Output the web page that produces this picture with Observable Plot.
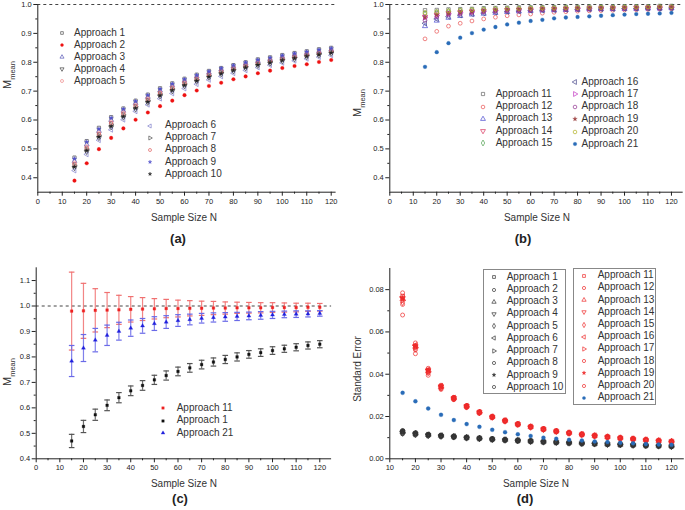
<!DOCTYPE html>
<html><head><meta charset="utf-8">
<script src="https://cdn.jsdelivr.net/npm/d3@7"></script>
<script src="https://cdn.jsdelivr.net/npm/@observablehq/plot@0.6"></script>
<style>
body{margin:0;background:#fff;font-family:"Liberation Sans",Arial,sans-serif;}
#root{position:relative;width:685px;height:510px;overflow:hidden;background:#fff;}
.abs{position:absolute;white-space:nowrap;color:#222;}
.c{transform:translate(-50%,-50%);}
.rot{transform:translate(-50%,-50%) rotate(-90deg);}
.xl{font-size:10px;color:#333;}
.yl{font-size:11px;color:#333;}
.yl sub{font-size:7.5px;}
.pl{font-size:13px;font-weight:bold;}
.lt{position:absolute;font-size:10px;line-height:12px;white-space:nowrap;color:#333;}
.box{position:absolute;border:1px solid #888;box-sizing:border-box;}
</style></head><body><div id="root"></div>
<script>
// ---------- data ----------
const N = [15,20,25,30,35,40,45,50,55,60,65,70,75,80,85,90,95,100,105,110,115,120];

// Panel (a): M_mean, approaches 1-10
const A1  = [.470,.527,.573,.610,.640,.667,.688,.710,.727,.743,.757,.770,.780,.790,.800,.810,.817,.825,.832,.838,.845,.850];
const A2  = [.390,.450,.499,.538,.571,.601,.626,.648,.667,.686,.702,.718,.729,.741,.751,.762,.771,.780,.787,.793,.801,.808];
const A3  = [.458,.515,.562,.600,.632,.659,.680,.702,.720,.736,.751,.764,.775,.785,.795,.804,.811,.819,.826,.832,.838,.844];
const A4  = [.434,.490,.538,.575,.609,.637,.660,.682,.700,.717,.733,.747,.759,.769,.779,.788,.796,.804,.811,.818,.824,.830];
const A5  = [.452,.508,.556,.594,.627,.654,.676,.697,.715,.732,.747,.760,.771,.782,.791,.800,.808,.815,.822,.829,.835,.841];
const A6  = [.425,.481,.530,.566,.601,.630,.653,.674,.692,.709,.724,.739,.751,.762,.772,.782,.790,.798,.805,.812,.818,.824];
const A7  = [.443,.499,.547,.585,.618,.646,.668,.690,.708,.725,.740,.754,.765,.775,.785,.794,.802,.810,.817,.824,.830,.836];
const A8  = [.447,.503,.551,.589,.622,.649,.671,.693,.711,.728,.743,.757,.768,.778,.788,.797,.805,.812,.819,.826,.832,.838];
const A9  = [.466,.524,.569,.607,.638,.665,.686,.707,.725,.741,.755,.768,.779,.789,.799,.808,.815,.823,.830,.836,.843,.848];
const A10 = [.438,.494,.542,.578,.612,.641,.663,.685,.703,.720,.736,.750,.761,.772,.782,.791,.799,.807,.814,.821,.827,.833];

// Panel (b): M_mean, approaches 11-21
const B11 = [.980,.981,.983,.984,.985,.987,.988,.989,.990,.990,.991,.991,.992,.992,.993,.993,.993,.994,.994,.994,.995,.995];
const B12 = [.881,.907,.925,.935,.943,.950,.956,.961,.964,.967,.970,.973,.975,.977,.978,.979,.980,.981,.982,.983,.984,.985];
const B13 = [.925,.944,.954,.960,.965,.968,.971,.974,.976,.978,.979,.980,.981,.982,.983,.984,.984,.985,.985,.986,.986,.987];
const B14 = [.958,.965,.970,.973,.976,.978,.980,.981,.982,.983,.984,.985,.986,.986,.987,.987,.988,.988,.989,.989,.990,.990];
const B15 = [.968,.972,.976,.978,.980,.982,.983,.984,.985,.986,.986,.987,.988,.988,.989,.989,.989,.990,.990,.990,.991,.991];
const B16 = [.935,.950,.958,.963,.967,.970,.973,.975,.977,.979,.980,.981,.982,.983,.984,.984,.985,.986,.986,.987,.987,.988];
const B17 = [.955,.962,.968,.972,.975,.977,.979,.981,.982,.983,.984,.985,.985,.986,.987,.987,.988,.988,.989,.989,.989,.990];
const B18 = [.945,.957,.964,.968,.972,.975,.977,.979,.980,.981,.982,.983,.984,.985,.985,.986,.986,.987,.987,.988,.988,.989];
const B19 = [.956,.964,.969,.973,.976,.978,.980,.982,.983,.984,.985,.985,.986,.987,.987,.988,.988,.989,.989,.990,.990,.990];
const B20 = [.972,.975,.978,.980,.982,.983,.985,.986,.986,.987,.988,.988,.989,.989,.990,.990,.990,.991,.991,.991,.992,.992];
const B21 = [.784,.835,.866,.885,.901,.913,.922,.931,.937,.943,.947,.952,.955,.957,.959,.961,.963,.965,.967,.968,.969,.971];

// Panel (c): error half-widths for approaches 11, 1, 21 (means from B11, A1, B21)
const E11 = [.153,.108,.085,.069,.057,.050,.045,.040,.036,.033,.030,.028,.026,.024,.022,.021,.020,.019,.018,.017,.016,.015];
const E1  = [.026,.024,.022,.021,.020,.019,.019,.018,.018,.017,.017,.017,.016,.016,.016,.015,.015,.015,.014,.014,.014,.014];
const E21 = [.061,.053,.046,.040,.035,.032,.029,.027,.025,.023,.021,.019,.018,.017,.016,.015,.015,.014,.013,.013,.012,.011];

// Panel (d): standard error, approaches 1-21
const D1  = [.0130,.0120,.0114,.0110,.0106,.0101,.0097,.0093,.0090,.0087,.0084,.0081,.0079,.0076,.0074,.0072,.0070,.0068,.0066,.0064,.0062,.0060];
const D2  = [.0118,.0112,.0108,.0105,.0102,.0098,.0095,.0091,.0088,.0085,.0082,.0080,.0077,.0075,.0073,.0071,.0069,.0067,.0065,.0063,.0061,.0059];
const D3  = [.0127,.0119,.0113,.0109,.0105,.0100,.0097,.0093,.0089,.0086,.0083,.0081,.0078,.0076,.0074,.0071,.0069,.0067,.0065,.0063,.0062,.0060];
const D4  = [.0125,.0118,.0112,.0108,.0104,.0100,.0096,.0092,.0089,.0086,.0083,.0080,.0078,.0076,.0073,.0071,.0069,.0067,.0065,.0063,.0061,.0059];
const D5  = [.0122,.0116,.0111,.0107,.0104,.0099,.0096,.0092,.0089,.0086,.0083,.0080,.0078,.0075,.0073,.0071,.0069,.0067,.0065,.0063,.0061,.0059];
const D6  = [.0128,.0120,.0114,.0110,.0106,.0101,.0097,.0093,.0090,.0087,.0084,.0081,.0079,.0076,.0074,.0072,.0070,.0068,.0066,.0064,.0062,.0060];
const D7  = [.0124,.0117,.0112,.0108,.0104,.0100,.0096,.0092,.0089,.0086,.0083,.0080,.0078,.0075,.0073,.0071,.0069,.0067,.0065,.0063,.0061,.0059];
const D8  = [.0132,.0122,.0115,.0111,.0106,.0102,.0098,.0094,.0090,.0087,.0084,.0081,.0079,.0077,.0074,.0072,.0070,.0068,.0066,.0064,.0062,.0060];
const D9  = [.0129,.0121,.0114,.0110,.0105,.0101,.0097,.0093,.0090,.0087,.0084,.0081,.0078,.0076,.0074,.0072,.0070,.0068,.0066,.0064,.0062,.0060];
const D10 = [.0134,.0123,.0116,.0111,.0107,.0102,.0098,.0094,.0091,.0088,.0085,.0082,.0079,.0077,.0075,.0073,.0071,.0069,.0067,.0065,.0063,.0061];
const D11 = [.0770,.0535,.0420,.0345,.0289,.0250,.0221,.0199,.0181,.0164,.0152,.0141,.0131,.0123,.0116,.0110,.0104,.0099,.0094,.0090,.0086,.0082];
const D12 = [.0680,.0497,.0395,.0328,.0280,.0243,.0216,.0195,.0178,.0162,.0150,.0139,.0129,.0121,.0114,.0108,.0102,.0097,.0093,.0088,.0084,.0081];
const D13 = [.0755,.0530,.0415,.0340,.0286,.0248,.0220,.0198,.0180,.0163,.0151,.0140,.0130,.0122,.0115,.0109,.0103,.0098,.0094,.0089,.0085,.0082];
const D14 = [.0760,.0532,.0418,.0342,.0287,.0249,.0220,.0198,.0180,.0164,.0151,.0140,.0130,.0122,.0115,.0109,.0103,.0098,.0094,.0089,.0085,.0082];
const D15 = [.0740,.0522,.0410,.0336,.0284,.0246,.0218,.0197,.0179,.0163,.0150,.0139,.0130,.0122,.0115,.0108,.0103,.0098,.0093,.0089,.0085,.0081];
const D16 = [.0765,.0537,.0421,.0344,.0288,.0250,.0221,.0199,.0181,.0165,.0152,.0141,.0131,.0123,.0116,.0110,.0104,.0099,.0094,.0090,.0086,.0082];
const D17 = [.0750,.0527,.0413,.0338,.0285,.0247,.0219,.0197,.0180,.0163,.0151,.0140,.0130,.0122,.0115,.0109,.0103,.0098,.0094,.0089,.0085,.0081];
const D18 = [.0785,.0548,.0428,.0348,.0291,.0252,.0222,.0200,.0182,.0165,.0153,.0141,.0131,.0123,.0116,.0110,.0104,.0099,.0095,.0090,.0086,.0082];
const D19 = [.0758,.0533,.0418,.0342,.0287,.0249,.0220,.0198,.0181,.0164,.0152,.0140,.0131,.0122,.0116,.0109,.0104,.0098,.0094,.0089,.0085,.0082];
const D20 = [.0730,.0515,.0405,.0333,.0282,.0245,.0217,.0196,.0179,.0162,.0150,.0139,.0129,.0121,.0114,.0108,.0103,.0097,.0093,.0088,.0085,.0081];
const D21 = [.0312,.0272,.0238,.0208,.0183,.0164,.0151,.0137,.0126,.0116,.0108,.0100,.0095,.0090,.0086,.0082,.0079,.0076,.0073,.0070,.0068,.0066];

// tick values
const xTicksMain = [0,10,20,30,40,50,60,70,80,90,100,110,120];
const xMinorMain = [5,15,25,35,45,55,65,75,85,95,105,115];
const xTicksD = [10,20,30,40,50,60,70,80,90,100,110,120];
const xMinorD = [15,25,35,45,55,65,75,85,95,105,115];
const yTicksAB = [0.4,0.5,0.6,0.7,0.8,0.9,1.0];
const yMinorAB = [0.45,0.55,0.65,0.75,0.85,0.95];
const yTicksC = [0.4,0.5,0.6,0.7,0.8,0.9,1.0,1.1];
const yMinorC = [0.45,0.55,0.65,0.75,0.85,0.95,1.05];
const yTicksD = [0,0.02,0.04,0.06,0.08];
const yMinorD = [0.01,0.03,0.05,0.07];

// ---------- symbols ----------
function rot(sym, deg) {
  const a = deg * Math.PI / 180, c = Math.cos(a), s = Math.sin(a);
  return {draw(ctx, size) {
    const ops = [];
    sym.draw({moveTo:(x,y)=>ops.push(["m",x,y]), lineTo:(x,y)=>ops.push(["l",x,y]), closePath:()=>ops.push(["z"])}, size);
    for (const o of ops) {
      if (o[0]==="z") ctx.closePath();
      else { const x = o[1]*c - o[2]*s, y = o[1]*s + o[2]*c; o[0]==="m" ? ctx.moveTo(x,y) : ctx.lineTo(x,y); }
    }
  }};
}
const S = {
  square: d3.symbolSquare, circle: d3.symbolCircle, triUp: d3.symbolTriangle,
  triDown: rot(d3.symbolTriangle,180), triLeft: rot(d3.symbolTriangle,-90), triRight: rot(d3.symbolTriangle,90),
  diamond: d3.symbolDiamond, star: d3.symbolStar
};
const hbar = {draw(ctx){ ctx.moveTo(-2.8,0); ctx.lineTo(2.8,0); }};

// series definitions
const serA = [
  {name:"Approach 1", v:A1, sym:S.square, col:"#555", fill:false},
  {name:"Approach 2", v:A2, sym:S.circle, col:"#ee1111", fill:true},
  {name:"Approach 3", v:A3, sym:S.triUp, col:"#5a5ab8", fill:false},
  {name:"Approach 4", v:A4, sym:S.triDown, col:"#444", fill:false},
  {name:"Approach 5", v:A5, sym:S.circle, col:"#e88", fill:false},
  {name:"Approach 6", v:A6, sym:S.triLeft, col:"#8080cc", fill:false},
  {name:"Approach 7", v:A7, sym:S.triRight, col:"#555", fill:false},
  {name:"Approach 8", v:A8, sym:S.circle, col:"#e06060", fill:false},
  {name:"Approach 9", v:A9, sym:S.star, col:"#5050cc", fill:true},
  {name:"Approach 10", v:A10, sym:S.star, col:"#222", fill:true}
];
const serB = [
  {name:"Approach 11", v:B11, sym:S.square, col:"#666", fill:false},
  {name:"Approach 12", v:B12, sym:S.circle, col:"#e85050", fill:false},
  {name:"Approach 13", v:B13, sym:S.triUp, col:"#4848d0", fill:false},
  {name:"Approach 14", v:B14, sym:S.triDown, col:"#d8305a", fill:false},
  {name:"Approach 15", v:B15, sym:S.diamond, col:"#50a050", fill:false},
  {name:"Approach 16", v:B16, sym:S.triLeft, col:"#444488", fill:false},
  {name:"Approach 17", v:B17, sym:S.triRight, col:"#c030c0", fill:false},
  {name:"Approach 18", v:B18, sym:S.circle, col:"#903090", fill:false},
  {name:"Approach 19", v:B19, sym:S.star, col:"#a04848", fill:true},
  {name:"Approach 20", v:B20, sym:S.circle, col:"#b0b020", fill:false},
  {name:"Approach 21", v:B21, sym:S.circle, col:"#2a6cb8", fill:true}
];
const black = "#333", red = "#ee2a2a";
const serD = [
  {name:"Approach 1", v:D1, sym:S.square, col:black},
  {name:"Approach 2", v:D2, sym:S.circle, col:black},
  {name:"Approach 3", v:D3, sym:S.triUp, col:black},
  {name:"Approach 4", v:D4, sym:S.triDown, col:black},
  {name:"Approach 5", v:D5, sym:S.diamond, col:black},
  {name:"Approach 6", v:D6, sym:S.triLeft, col:black},
  {name:"Approach 7", v:D7, sym:S.triRight, col:black},
  {name:"Approach 8", v:D8, sym:S.circle, col:black},
  {name:"Approach 9", v:D9, sym:S.star, col:black, fill:true},
  {name:"Approach 10", v:D10, sym:S.circle, col:black},
  {name:"Approach 11", v:D11, sym:S.square, col:red},
  {name:"Approach 12", v:D12, sym:S.circle, col:red},
  {name:"Approach 13", v:D13, sym:S.triUp, col:red},
  {name:"Approach 14", v:D14, sym:S.triDown, col:red},
  {name:"Approach 15", v:D15, sym:S.diamond, col:red},
  {name:"Approach 16", v:D16, sym:S.triLeft, col:red},
  {name:"Approach 17", v:D17, sym:S.triRight, col:red},
  {name:"Approach 18", v:D18, sym:S.circle, col:red},
  {name:"Approach 19", v:D19, sym:S.star, col:red, fill:true},
  {name:"Approach 20", v:D20, sym:S.circle, col:red},
  {name:"Approach 21", v:D21, sym:S.circle, col:"#2a6cb8", fill:true}
];
const serC = [
  {name:"Approach 11", v:B11, e:E11, sym:S.square, col:"#ee2222", bar:"#f07070"},
  {name:"Approach 21", v:B21, e:E21, sym:S.triUp, col:"#2020dd", bar:"#6a6ae8"},
  {name:"Approach 1", v:A1, e:E1, sym:S.square, col:"#111", bar:"#555"}
];
const legC = [serC[0], serC[2], serC[1]];

// ---------- helpers ----------
const root = document.getElementById("root");
function rows(s){ return N.map((n,i)=>({n, v:s.v[i], e: s.e ? s.e[i] : 0})); }
function rFor(s, base){ return s.sym === S.star ? base*0.8 : base; }
function dotMark(base){
  return s => Plot.dot(rows(s), {x:"n", y:"v", symbol:s.sym, r:rFor(s, base),
    fill: s.fill ? s.col : "none", stroke: s.col, strokeWidth: s.fill ? 0.3 : 0.7});
}
function panel(o){
  const fmt = d3.format(o.yFmt);
  const p = Plot.plot({
    width:o.w, height:o.h, marginLeft:o.mL, marginRight:o.mR, marginTop:o.mT, marginBottom:o.mB,
    x:{domain:o.xDom}, y:{domain:o.yDom},
    style:{fontFamily:'"Liberation Sans",Arial,sans-serif', fontSize:"7.5px", background:"transparent", overflow:"visible", color:"#222"},
    marks:[
      ...(o.under||[]),
      ...o.marks,
      Plot.ruleY([o.yDom[0]], {stroke:"#222", strokeWidth:1}),
      Plot.ruleX([o.xDom[0]], {stroke:"#222", strokeWidth:1}),
      Plot.axisX({ticks:o.xT, tickSize:4, tickPadding:2, label:null, tickFormat:d3.format("d")}),
      Plot.axisX({ticks:o.xM, tickSize:2, label:null, tickFormat:()=>""}),
      Plot.axisY({ticks:o.yT, tickSize:4, tickPadding:2, label:null, tickFormat:fmt}),
      Plot.axisY({ticks:o.yM, tickSize:2, label:null, tickFormat:()=>""})
    ]
  });
  p.style.position = "absolute"; p.style.left = o.left+"px"; p.style.top = o.top+"px";
  root.appendChild(p);
}
function txt(html, cls, x, y){
  const d = document.createElement("div");
  d.className = "abs " + cls; d.innerHTML = html;
  d.style.left = x+"px"; d.style.top = y+"px";
  root.appendChild(d);
}
function symSvg(s, lr){
  const r = rFor(s, lr);
  const d = d3.symbol(s.sym, r*r*Math.PI)();
  const filled = s.fill;
  return `<svg width="10" height="10" style="position:absolute;overflow:visible"><path transform="translate(5,5)" d="${d}" fill="${filled ? s.col : "none"}" stroke="${s.col}" stroke-width="${filled?0.3:0.7}"/></svg>`;
}
function legend(items, x0, textX, y0, rowH, lr){
  items.forEach((s,i)=>{
    const yc = y0 + i*rowH;
    const a = document.createElement("div");
    a.style.cssText = `position:absolute;left:${x0-5}px;top:${yc-5}px;width:10px;height:10px`;
    a.innerHTML = symSvg(s, lr);
    root.appendChild(a);
    const t = document.createElement("div");
    t.className = "lt"; t.textContent = s.name;
    t.style.left = textX+"px"; t.style.top = (yc-6.5)+"px";
    root.appendChild(t);
  });
}
function box(x,y,w,h){
  const b = document.createElement("div"); b.className="box";
  b.style.cssText += `left:${x}px;top:${y}px;width:${w}px;height:${h}px`;
  root.appendChild(b);
}
const dash = Plot.ruleY([1.0], {stroke:"#444", strokeDasharray:"3,3", strokeWidth:1});

// ---------- panel (a) ----------
panel({left:0, top:0, w:340, h:210, mL:37.3, mR:4.4, mT:4, mB:18.3,
  xDom:[0,122], yDom:[0.35,1.0], xT:xTicksMain, xM:xMinorMain, yT:yTicksAB, yM:yMinorAB, yFmt:".1f",
  under:[dash], marks: serA.map(dotMark(1.8))});
legend(serA.slice(0,5), 62, 74, 33, 12, 1.5);
legend(serA.slice(5), 150, 165, 125.7, 12.1, 1.5);
txt("Sample Size N", "c xl", 184, 217);
txt("M<sub>mean</sub>", "rot yl", 9, 75);
txt("(a)", "c pl", 178, 238);

// ---------- panel (b) ----------
panel({left:340, top:0, w:345, h:210, mL:49.3, mR:2.3, mT:4, mB:18.3,
  xDom:[0,125], yDom:[0.35,1.0], xT:xTicksMain, xM:xMinorMain, yT:yTicksAB, yM:yMinorAB, yFmt:".1f",
  under:[dash], marks: serB.map(dotMark(1.9))});
legend(serB.slice(0,5), 482.7, 495.7, 94.3, 12.25, 1.8);
legend(serB.slice(5), 575, 581.5, 82, 12.4, 1.8);
txt("Sample Size N", "c xl", 537, 217);
txt("M<sub>mean</sub>", "rot yl", 359, 103);
txt("(b)", "c pl", 523, 238);

// ---------- panel (c) ----------
const cMarks = [];
for (const s of serC) {
  const r = rows(s);
  cMarks.push(Plot.ruleX(r, {x:"n", y1:d=>d.v-d.e, y2:d=>d.v+d.e, stroke:s.bar, strokeWidth:1.2, strokeOpacity:0.85}));
  cMarks.push(Plot.dot(r, {x:"n", y:d=>d.v+d.e, symbol:hbar, stroke:s.bar, strokeWidth:1.2}));
  cMarks.push(Plot.dot(r, {x:"n", y:d=>d.v-d.e, symbol:hbar, stroke:s.bar, strokeWidth:1.2}));
  cMarks.push(Plot.dot(r, {x:"n", y:"v", symbol:s.sym, r:1.5, fill:s.col, stroke:s.col, strokeWidth:0.3}));
}
panel({left:0, top:250, w:340, h:220, mL:35.7, mR:8.9, mT:17.3, mB:11.7,
  xDom:[0,125], yDom:[0.4,1.15], xT:xTicksMain, xM:xMinorMain, yT:yTicksC, yM:yMinorC, yFmt:".1f",
  under:[dash], marks:cMarks});
legend(legC.map(s=>({...s, fill:true})), 163, 176.7, 408, 12.5, 1.4);
txt("Sample Size N", "c xl", 184, 483);
txt("M<sub>mean</sub>", "rot yl", 9, 372);
txt("(c)", "c pl", 180, 498);

// ---------- panel (d) ----------
panel({left:340, top:250, w:345, h:220, mL:49.3, mR:1.2, mT:18, mB:11.7,
  xDom:[10,125], yDom:[0,0.09], xT:xTicksD, xM:xMinorD, yT:yTicksD, yM:yMinorD, yFmt:".2f",
  marks: serD.map(dotMark(2.0))});
box(482.7, 269.3, 83, 125);
box(572.7, 268.3, 83.5, 136.5);
legend(serD.slice(0,10), 494, 506.7, 277.3, 12.22, 1.6);
legend(serD.slice(10), 584.3, 597.7, 275.7, 12.2, 1.6);
txt("Sample Size N", "c xl", 536, 483);
txt("Standard Error", "rot xl", 357, 369);
txt("(d)", "c pl", 525, 498);
</script></body></html>
